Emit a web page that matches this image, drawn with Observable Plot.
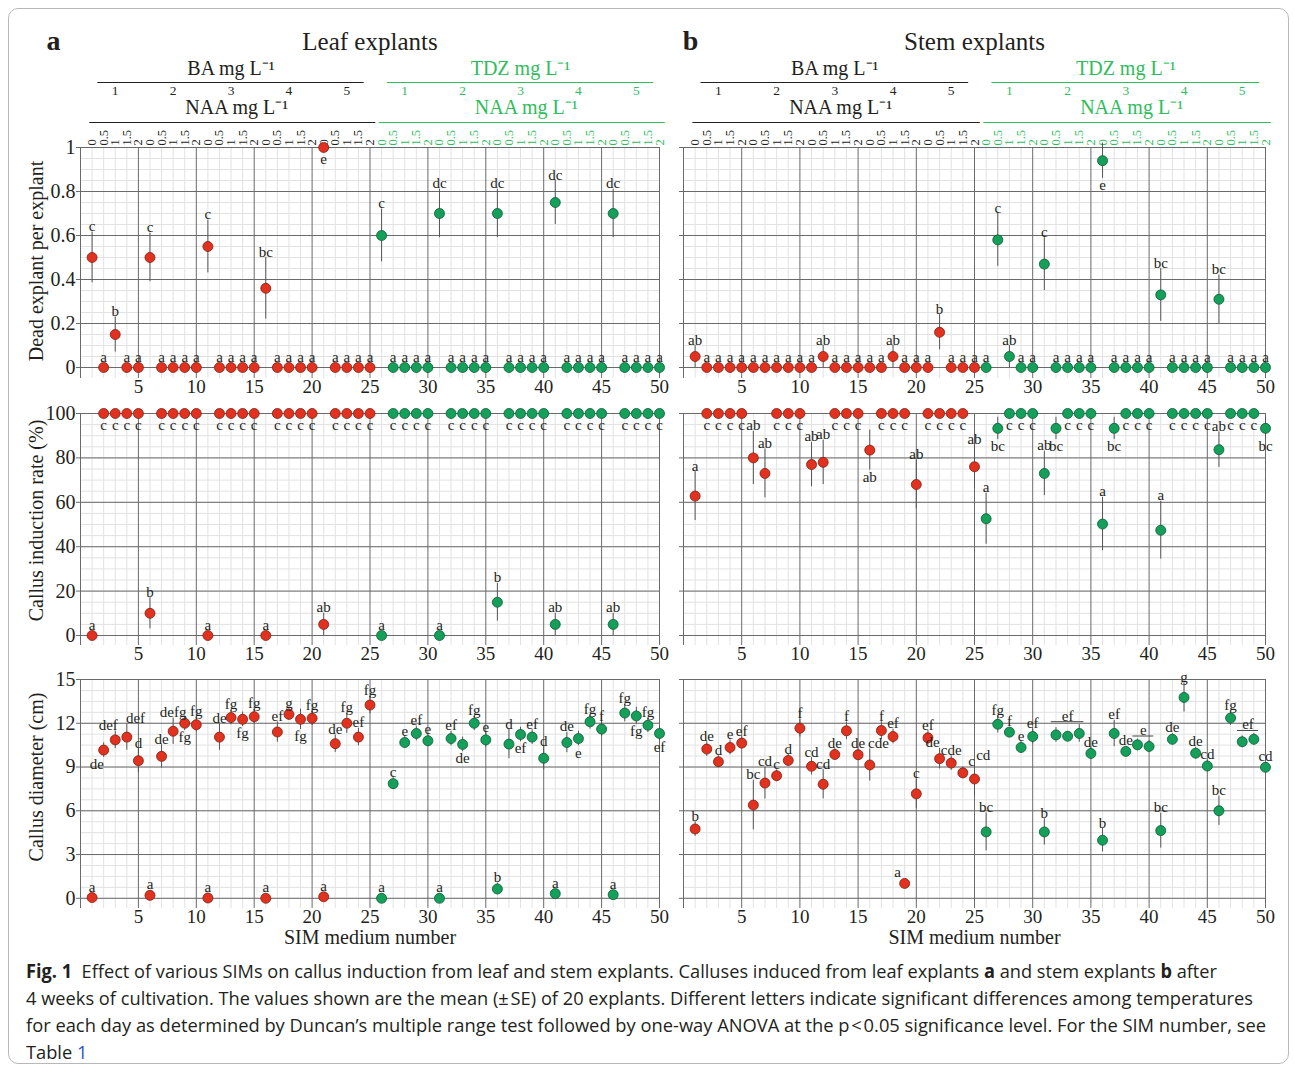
<!DOCTYPE html>
<html><head><meta charset="utf-8">
<script src="https://cdn.jsdelivr.net/npm/d3@7"></script>
<script src="https://cdn.jsdelivr.net/npm/@observablehq/plot@0.6"></script>
<style>
html,body{margin:0;padding:0;background:#fff;}
body{width:1295px;height:1071px;position:relative;overflow:hidden;font-family:"Liberation Serif","Times New Roman",serif;}
#frame{position:absolute;left:8px;top:8px;width:1281px;height:1056px;border:1px solid #b8b8b8;border-radius:10px;box-sizing:border-box;}
.abs{position:absolute;}
#caption{position:absolute;left:26px;top:958px;width:1260px;font-family:"Open Sans","Noto Sans",sans-serif;font-size:19px;line-height:27px;color:#231f20;}
.cl{display:block;height:27px;white-space:nowrap;}
.cl span.in{display:inline-block;transform-origin:0 50%;}
.lnk{color:#2a4fd0;}
</style></head><body>
<div id="frame"></div>
<div id="root"></div>
<div id="caption">
<div class="cl"><span class="in" data-w="1191"><b>Fig. 1</b>&nbsp;&nbsp;Effect of various SIMs on callus induction from leaf and stem explants. Calluses induced from leaf explants <b>a</b> and stem explants <b>b</b> after</span></div>
<div class="cl"><span class="in" data-w="1227">4 weeks of cultivation. The values shown are the mean (±&#8202;SE) of 20 explants. Different letters indicate significant differences among temperatures</span></div>
<div class="cl"><span class="in" data-w="1240">for each day as determined by Duncan’s multiple range test followed by one-way ANOVA at the p&#8202;&lt;&#8202;0.05 significance level. For the SIM number, see</span></div>
<div class="cl"><span class="in">Table <span class="lnk">1</span></span></div>
</div>
<script>
// ---------------- data ----------------
const media = d3.range(1, 51);
const xTicks = [5, 10, 15, 20, 25, 30, 35, 40, 45, 50];
const naaLevels = ["0", "0.5", "1", "1.5", "2"];
const cytokinins = ["BA", "TDZ"];
const cytokininLevels = [1, 2, 3, 4, 5];
const deadTicks = [0, 0.2, 0.4, 0.6, 0.8, 1];
const callusTicks = [0, 20, 40, 60, 80, 100];
const diamTicks = [0, 3, 6, 9, 12, 15];

// Leaf explants
const leafDead = [0.5,0,0.15,0,0, 0.5,0,0,0,0, 0.55,0,0,0,0, 0.36,0,0,0,0, 1.0,0,0,0,0, 0.6,0,0,0,0, 0.7,0,0,0,0, 0.7,0,0,0,0, 0.75,0,0,0,0, 0.7,0,0,0,0];
const leafDeadSE = [0.115,0,0.08,0,0, 0.11,0,0,0,0, 0.12,0,0,0,0, 0.14,0,0,0,0, 0,0,0,0,0, 0.12,0,0,0,0, 0.11,0,0,0,0, 0.11,0,0,0,0, 0.1,0,0,0,0, 0.11,0,0,0,0];
const leafDeadLetters = ["c","a","b","a","a","c","a","a","a","a","c","a","a","a","a","bc","a","a","a","a","e","a","a","a","a","c","a","a","a","a","dc","a","a","a","a","dc","a","a","a","a","dc","a","a","a","a","dc","a","a","a","a"];
// letter placement: t = above, b = below, l = above-left, r = above-right, B = below-left (groups of five media)
const leafDeadSides = ["ttttt","ttttt","ttttt","ttttt","btttt","ttttt","ttttt","ttttt","ttttt","ttttt"].join("");

const leafCallus = [0,100,100,100,100, 10,100,100,100,100, 0,100,100,100,100, 0,100,100,100,100, 5,100,100,100,100, 0,100,100,100,100, 0,100,100,100,100, 15,100,100,100,100, 5,100,100,100,100, 5,100,100,100,100];
const leafCallusSE = [0,0,0,0,0, 7,0,0,0,0, 0,0,0,0,0, 0,0,0,0,0, 5,0,0,0,0, 0,0,0,0,0, 0,0,0,0,0, 8.5,0,0,0,0, 5,0,0,0,0, 5,0,0,0,0];
const leafCallusLetters = ["a","c","c","c","c","b","c","c","c","c","a","c","c","c","c","a","c","c","c","c","ab","c","c","c","c","a","c","c","c","c","a","c","c","c","c","b","c","c","c","c","ab","c","c","c","c","ab","c","c","c","c"];
const leafCallusSides = ["tbbbb","tbbbb","tbbbb","tbbbb","tbbbb","tbbbb","tbbbb","tbbbb","tbbbb","tbbbb"].join("");

const leafDiam = [0.05,10.16,10.86,11.05,9.43, 0.2,9.73,11.45,12.0,11.9, 0.02,11.05,12.39,12.27,12.45, 0,11.4,12.61,12.27,12.34, 0.1,10.6,12.0,11.05,13.25, 0,7.86,10.68,11.3,10.8, 0,10.95,10.55,12.0,10.86, 0.64,10.57,11.23,11.05,9.6, 0.32,10.68,10.95,12.1,11.6, 0.25,12.7,12.5,11.86,11.3];
const leafDiamSE = [0,0.5,0.6,0.9,0.8, 0,0.8,0.9,0.5,0.5, 0,0.9,0.5,0.5,0.5, 0,0.7,0.4,0.7,0.5, 0,0.6,0.7,0.6,0.6, 0,0.4,0.4,0.5,0.4, 0,0.5,0.5,0.5,0.5, 0.4,1.0,0.5,0.5,0.8, 0,0.7,0.5,0.5,0.5, 0,0.6,0.6,0.5,0.5];
const leafDiamLetters = ["a","de","def","def","d","a","de","defg","fg","fg","a","de","fg","fg","fg","a","ef","g","fg","fg","a","de","fg","ef","fg","a","c","e","ef","e","a","ef","de","fg","e","b","d","ef","ef","d","a","de","e","fg","f","a","fg","fg","fg","ef"];
const leafDiamSides = ["tBlrt","tttbt","tttbt","tttbt","ttttt","ttttt","ttbtt","ttbtt","ttbtt","ttbtb"].join("");

// Stem explants
const stemDead = [0.05,0,0,0,0, 0,0,0,0,0, 0,0.05,0,0,0, 0,0,0.05,0,0, 0,0.16,0,0,0, 0,0.58,0.05,0,0, 0.47,0,0,0,0, 0.94,0,0,0,0, 0.33,0,0,0,0, 0.31,0,0,0,0];
const stemDeadSE = [0.05,0,0,0,0, 0,0,0,0,0, 0,0.05,0,0,0, 0,0,0.05,0,0, 0,0.08,0,0,0, 0,0.12,0.05,0,0, 0.12,0,0,0,0, 0.08,0,0,0,0, 0.12,0,0,0,0, 0.11,0,0,0,0];
const stemDeadLetters = ["ab","a","a","a","a","a","a","a","a","a","a","ab","a","a","a","a","a","ab","a","a","a","b","a","a","a","a","c","ab","a","a","c","a","a","a","a","e","a","a","a","a","bc","a","a","a","a","bc","a","a","a","a"];
const stemDeadSides = ["ttttt","ttttt","ttttt","ttttt","ttttt","ttttt","ttttt","btttt","ttttt","ttttt"].join("");

const stemCallus = [62.8,100,100,100,100, 80,73,100,100,100, 77,78,100,100,100, 83.5,100,100,100,68, 100,100,100,100,76, 52.6,93.3,100,100,100, 73,93.3,100,100,100, 50.2,93.3,100,100,100, 47.4,100,100,100,100, 83.7,100,100,100,93.3];
const stemCallusSE = [11,0,0,0,0, 12,11,0,0,0, 10,10,0,0,0, 9,0,0,0,11, 0,0,0,0,10, 11.5,5,0,0,0, 10,5,0,0,0, 12,5,0,0,0, 13,0,0,0,0, 8,0,0,0,5];
const stemCallusLetters = ["a","c","c","c","c","ab","ab","c","c","c","ab","ab","c","c","c","ab","c","c","c","ab","c","c","c","c","ab","a","bc","c","c","c","ab","bc","c","c","c","a","bc","c","c","c","a","c","c","c","c","ab","c","c","c","bc"];
const stemCallusSides = ["tbbbb","ttbbb","ttbbb","bbbbt","bbbbt","tbbbb","tbbbb","tbbbb","tbbbb","tbbbb"].join("");

const stemDiam = [4.75,10.23,9.36,10.34,10.64, 6.39,7.9,8.4,9.45,11.66, 9.05,7.82,9.86,11.48,9.84, 9.14,11.5,11.09,1.02,7.16, 11.0,9.57,9.27,8.6,8.18, 4.55,11.93,11.39,10.34,11.09, 4.55,11.2,11.11,11.3,9.93, 3.98,11.3,10.07,10.52,10.41, 4.64,10.9,13.77,9.95,9.07, 6.0,12.36,10.73,10.9,8.98];
const stemDiamSE = [0.5,0.5,0.4,0.5,0.4, 1.7,1.1,0.4,0.4,0.6, 0.6,1.0,0.4,0.6,0.4, 1.1,0.6,0.5,0,1.0, 0.5,0.7,0.5,0.4,1.2, 1.3,0.6,0.3,0.4,0.5, 0.9,0.5,0.3,0.6,0.4, 0.8,0.9,0.3,0.4,0.4, 1.2,0.4,1.0,0.4,0.4, 1.0,0.5,0.4,0.4,0];
const stemDiamLetters = ["b","de","d","e","ef","bc","cd","c","d","f","cd","cd","de","f","de","cde","f","ef","a","c","ef","de","cde","c","cd","bc","fg","f","e","ef","b","","","","de","b","ef","de","","","bc","de","g","de","cd","bc","fg","","","cd"];
const stemDiamSides = ["ttttt","ttttt","ttttt","rttlt","tltrr","ttttt","ttttt","ttttt","ttttt","ttttt"].join("");
const stemDiamGroupFrom = [32, 39, 48];
const stemDiamGroupTo = [34, 40, 49];
const stemDiamGroupLetters = ["ef", "e", "ef"];

// ---------------- styling / layout ----------------
const RED = "#e2321f", RED_S = "#7a2013";
const GREEN = "#14a05a", GREEN_S = "#0b5a33";
const HEAD_GREEN = "#2fbd5c";
const INK = "#231f20";
const MAJOR = "#6a6a6a", MINOR = "#e2e2e2";
const FONT = "'Liberation Serif','Times New Roman',serif";

const rows = [
  {key: "dead", domain: [-0.05, 1], ticks: deadTicks, minor: 0.05, top: 137, plotH: 231, mb: 25,
   label: "Dead explant per explant", labelDy: -2},
  {key: "callus", domain: [-4.5, 100], ticks: callusTicks, minor: 5, top: 403, plotH: 232, mb: 25,
   label: "Callus induction rate (%)", labelDy: -9},
  {key: "diam", domain: [-0.7, 15], ticks: diamTicks, minor: 0.75, top: 669, plotH: 229, mb: 60,
   label: "Callus diameter (cm)", labelDy: -17, xLabel: "SIM medium number"}
];

const columns = [
  {key: "leaf", left: 0, width: 665, ml: 80, mr: 6, letter: "a", letterDx: -27, title: "Leaf explants", showY: true,
   series: {
     dead: [leafDead, leafDeadSE, leafDeadLetters, leafDeadSides],
     callus: [leafCallus, leafCallusSE, leafCallusLetters, leafCallusSides],
     diam: [leafDiam, leafDiamSE, leafDiamLetters, leafDiamSides]
   }},
  {key: "stem", left: 665, width: 612, ml: 18, mr: 12, letter: "b", letterDx: 7, title: "Stem explants", showY: false,
   series: {
     dead: [stemDead, stemDeadSE, stemDeadLetters, stemDeadSides],
     callus: [stemCallus, stemCallusSE, stemCallusLetters, stemCallusSides],
     diam: [stemDiam, stemDiamSE, stemDiamLetters, stemDiamSides]
   },
   groups: {diam: stemDiamGroupFrom.map((f, i) => ({from: f, to: stemDiamGroupTo[i], letter: stemDiamGroupLetters[i]}))}}
];

const root = document.getElementById("root");
function place(el, left, top) {
  const d = document.createElement("div");
  d.className = "abs";
  d.style.left = left + "px";
  d.style.top = top + "px";
  d.appendChild(el);
  root.appendChild(d);
}

function header(col) {
  const H = 127;
  const marks = [];
  marks.push(Plot.text([col.letter], {x: 0, y: 21, dx: col.letterDx, fontSize: 28, fontWeight: "bold", fill: INK}));
  marks.push(Plot.text([col.title], {x: 25, y: 21, fontSize: 25, fill: INK}));
  cytokinins.forEach((c, ci) => {
    const color = ci === 0 ? INK : HEAD_GREEN;
    const off = ci * 25;
    marks.push(Plot.text([`${c} mg L⁻¹`], {x: 13 + off, y: 48, fontSize: 20, fill: color}));
    marks.push(Plot.ruleY([62], {x1: 1.5 + off, x2: 24.5 + off, stroke: color, strokeWidth: 1.2}));
    marks.push(Plot.text(cytokininLevels, {x: l => off + 5 * l - 2, y: 70, text: d => String(d), fontSize: 13.5, fill: color}));
    marks.push(Plot.text(["NAA mg L⁻¹"], {x: 13.5 + off, y: 87, fontSize: 20, fill: color}));
    marks.push(Plot.ruleY([102], {x1: 0.8 + off, x2: 25.5 + off, stroke: color, strokeWidth: 1.2}));
    marks.push(Plot.text(media.filter(m => (m <= 25) === (ci === 0)), {
      x: d => d, y: 125, text: m => naaLevels[(m - 1) % 5], rotate: -90, textAnchor: "start",
      fontSize: 12.5, fill: color
    }));
  });
  return Plot.plot({
    width: col.width, height: H, marginLeft: col.ml, marginRight: col.mr, marginTop: 0, marginBottom: 0,
    x: {domain: [0, 50], axis: null},
    y: {domain: [0, H], range: [0, H], axis: null},
    style: {fontFamily: FONT, background: "transparent", overflow: "visible"},
    marks
  });
}

function panel(col, row) {
  const [vals, se, letters, sides] = col.series[row.key];
  const k = row.plotH / (row.domain[1] - row.domain[0]);
  const rU = 5 / k;
  const recs = media.map((m, i) => ({m, v: vals[i], se: se[i], letter: letters[i], side: sides[i], ba: m <= 25}));
  const labs = recs.filter(d => d.letter).map(d => {
    const up = d.side === "t" || d.side === "l" || d.side === "r";
    const off = Math.max(d.se, rU);
    const shift = (d.side === "l" || d.side === "B") ? -0.6 : d.side === "r" ? 0.75 : 0;
    return {...d, up, lx: d.m + shift, ly: up ? d.v + off : d.v - off};
  });
  const nMinor = Math.round(row.domain[1] / row.minor);
  const minorY = d3.range(0, nMinor + 1).map(i => i * row.minor);
  const minorX = media.filter(m => m % 5 !== 0);
  const majorX = [0, ...xTicks];
  const marks = [
    Plot.ruleX(minorX, {x: d => d, stroke: MINOR, strokeWidth: 1}),
    Plot.ruleY(minorY, {y: d => d, stroke: MINOR, strokeWidth: 1}),
    Plot.ruleY(row.ticks, {y: d => d, stroke: MAJOR, strokeWidth: 1}),
    Plot.ruleX(majorX, {x: d => d, stroke: MAJOR, strokeWidth: 1}),
    Plot.axisY(row.ticks, {tickSize: 4, tickPadding: 1, fontSize: 20, stroke: MAJOR, label: null,
      tickFormat: col.showY ? (d => String(d)) : (() => "")}),
    Plot.axisX(xTicks, {tickSize: 0, tickPadding: 1, fontSize: 19, label: null}),
    Plot.ruleX(recs.filter(d => d.se > 0), {x: "m", y1: d => d.v - d.se, y2: d => d.v + d.se, stroke: "#555", strokeWidth: 1}),
    Plot.dot(recs.filter(d => d.ba), {x: "m", y: "v", r: 5, fill: RED, stroke: RED_S, strokeWidth: 0.8}),
    Plot.dot(recs.filter(d => !d.ba), {x: "m", y: "v", r: 5, fill: GREEN, stroke: GREEN_S, strokeWidth: 0.8}),
    Plot.text(labs.filter(d => d.up), {x: "lx", y: "ly", text: "letter", lineAnchor: "bottom", dy: -1, fontSize: 15, fill: INK}),
    Plot.text(labs.filter(d => !d.up), {x: "lx", y: "ly", text: "letter", lineAnchor: "top", dy: 1, fontSize: 15, fill: INK})
  ];
  const groups = col.groups && col.groups[row.key];
  if (groups) {
    const gr = groups.map(g => {
      const mem = recs.filter(d => d.m >= g.from && d.m <= g.to);
      return {...g, gy: d3.max(mem, d => d.v + d.se) + 3 / k, gx: (g.from + g.to) / 2};
    });
    marks.push(Plot.ruleY(gr, {y: "gy", x1: d => d.from - 0.4, x2: d => d.to + 0.4, stroke: "#444", strokeWidth: 1}));
    marks.push(Plot.text(gr, {x: "gx", y: "gy", text: "letter", lineAnchor: "bottom", dy: -1, fontSize: 15, fill: INK}));
  }
  if (col.showY) {
    marks.push(Plot.text([row.label], {frameAnchor: "left", textAnchor: "middle", dx: -44, dy: row.labelDy, rotate: -90, fontSize: 20, fill: INK}));
  }
  if (row.xLabel) {
    marks.push(Plot.text([row.xLabel], {frameAnchor: "bottom", textAnchor: "middle", dy: 35, fontSize: 20, fill: INK}));
  }
  return Plot.plot({
    width: col.width, height: 10 + row.plotH + row.mb,
    marginLeft: col.ml, marginRight: col.mr, marginTop: 10, marginBottom: row.mb,
    x: {domain: [0, 50]},
    y: {domain: row.domain},
    style: {fontFamily: FONT, background: "transparent", overflow: "visible", color: INK},
    marks
  });
}

for (const col of columns) {
  place(header(col), col.left, 20);
  for (const row of rows) place(panel(col, row), col.left, row.top);
}

// fit caption lines to the reference widths
function fitCaption() {
  const spans = Array.from(document.querySelectorAll("#caption .in"));
  const scales = [];
  spans.forEach(s => { s.style.transform = "none"; });
  spans.forEach(s => {
    if (s.dataset.w) {
      const w = s.getBoundingClientRect().width;
      const sc = (+s.dataset.w) / w;
      scales.push(sc);
      s.style.transform = `scaleX(${sc})`;
    }
  });
  const avg = d3.mean(scales) || 1;
  spans.forEach(s => { if (!s.dataset.w) s.style.transform = `scaleX(${avg})`; });
}
fitCaption();
if (document.fonts && document.fonts.ready) document.fonts.ready.then(fitCaption);
</script>
</body></html>
